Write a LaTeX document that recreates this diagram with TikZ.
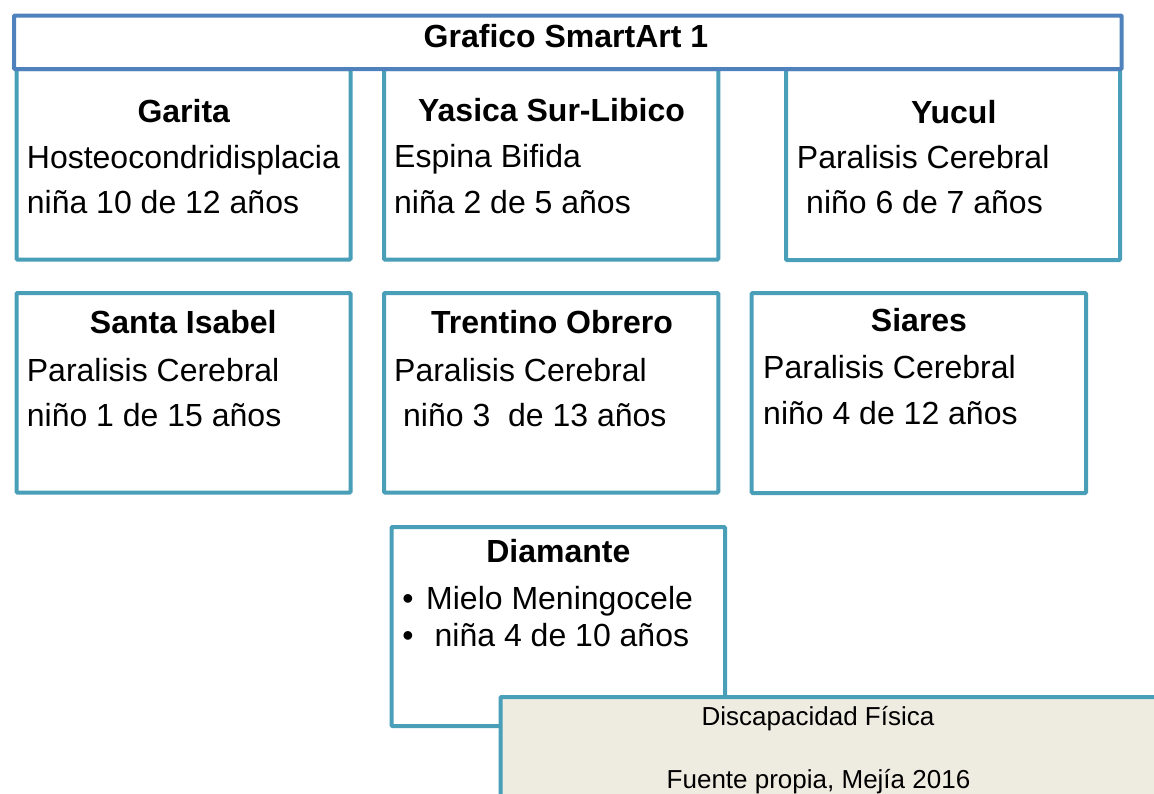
\documentclass[tikz,border=0pt]{standalone}
\usepackage{fontspec}
\setmainfont{Liberation Sans}
\definecolor{titleblue}{RGB}{79,129,189}
\definecolor{boxteal}{RGB}{73,158,184}
\definecolor{notefill}{RGB}{238,236,225}
\begin{document}
\begin{tikzpicture}[x=1pt,y=-1pt,
  box/.style={draw=boxteal,line width=4pt,rounded corners=1pt},
  titlebox/.style={draw=titleblue,fill=white,line width=4pt,rounded corners=1pt},
  notebox/.style={draw=boxteal,fill=notefill,line width=4pt,rounded corners=1pt},
  hdr/.style={font=\fontsize{32}{38}\selectfont\bfseries,inner sep=0pt,anchor=base},
  txt/.style={font=\fontsize{32}{38}\selectfont,inner sep=0pt,anchor=base west},
  bul/.style={font=\fontsize{32}{38}\selectfont,inner sep=0pt,anchor=base},
  note/.style={font=\fontsize{26}{31}\selectfont,inner sep=0pt,anchor=base}]
\useasboundingbox (0,0) rectangle (1154,793);
\clip (0,0) rectangle (1154,793);

% row 1 boxes
\draw[box] (16.5,69) rectangle (350.5,259.5);
\draw[box] (384,69) rectangle (718.3,259.5);
\draw[box] (786,69) rectangle (1120,260);
% title bar
\draw[titlebox] (14,15.5) rectangle (1121.7,69);
\node[hdr] (title) at (566,47) {Grafico SmartArt 1};

% row 1 texts
\node[hdr] (garita) at (183.8,122.7) {Garita};
\node[txt] (garita1) at (26.7,168) {Hosteocondridisplacia};
\node[txt] (garita2) at (26.7,213.5) {niña 10 de 12 años};

\node[hdr] (yasica) at (551.5,121.5) {Yasica Sur-Libico};
\node[txt] (yasica1) at (394,167) {Espina Bifida};
\node[txt] (yasica2) at (394,213) {niña 2 de 5 años};

\node[hdr] (yucul) at (953.7,123) {Yucul};
\node[txt] (yucul1) at (796.7,168) {Paralisis Cerebral};
\node[txt] (yucul2) at (806,213.5) {niño 6 de 7 años};

% row 2 boxes
\draw[box] (16.5,293) rectangle (350.5,492.5);
\draw[box] (384,293) rectangle (718.3,492.5);
\draw[box] (751.7,293) rectangle (1086,493);

\node[hdr] (santa) at (183.3,333.3) {Santa Isabel};
\node[txt] (santa1) at (26.7,381) {Paralisis Cerebral};
\node[txt] (santa2) at (26.7,426.7) {niño 1 de 15 años};

\node[hdr] (trentino) at (552,333.3) {Trentino Obrero};
\node[txt] (trentino1) at (394,381) {Paralisis Cerebral};
\node[txt] (trentino2) at (403,426.7) {niño 3\ \ de 13 años};

\node[hdr] (siares) at (919,331) {Siares};
\node[txt] (siares1) at (763,378) {Paralisis Cerebral};
\node[txt] (siares2) at (763,424) {niño 4 de 12 años};

% Diamante
\draw[box] (391.5,527) rectangle (725,726);
\node[hdr] (diamante) at (558.4,562.7) {Diamante};
\node[bul] (b1) at (408,609) {•};
\node[txt] (diam1) at (426,609) {Mielo Meningocele};
\node[bul] (b2) at (408,646.7) {•};
\node[txt] (diam2) at (434.5,646.7) {niña 4 de 10 años};

% note box
\draw[notebox] (500.5,697) rectangle (1180,820);
\node[note] (disc) at (818,725) {Discapacidad Física};
\node[note] (fuente) at (818.5,788) {Fuente propia, Mejía 2016};
\end{tikzpicture}
\end{document}
